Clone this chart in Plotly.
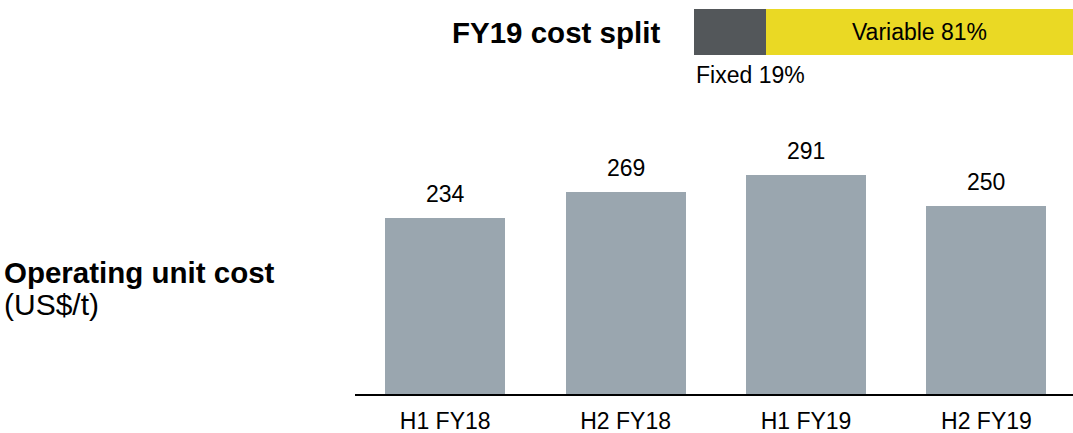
import plotly.graph_objects as go

# Operating unit cost by half-year (US$/t)
periods = ["H1 FY18", "H2 FY18", "H1 FY19", "H2 FY19"]
unit_cost = [234, 269, 291, 250]

# FY19 cost split (%)
split_labels = ["Fixed", "Variable"]
split_values = [19, 81]

FONT = "Liberation Sans, Arial, sans-serif"
BAR_GREY = "#9AA6AF"
DARK = "#53575A"
YELLOW = "#EAD924"

H = 433
BOTTOM = 39
PLOT_H = H - BOTTOM  # pixel height of the plotting area


def py(pixel_y):
    """Convert a pixel row (from top) to paper y."""
    return (PLOT_H - pixel_y) / PLOT_H


fig = go.Figure()

fig.add_trace(go.Bar(
    x=periods, y=unit_cost, marker_color=BAR_GREY, width=0.665,
    xaxis="x", yaxis="y", showlegend=False, hoverinfo="skip",
))

# Horizontal stacked split bar
fig.add_trace(go.Bar(
    y=["FY19"], x=[split_values[0]], orientation="h", marker_color=DARK,
    width=1, xaxis="x2", yaxis="y2", showlegend=False, hoverinfo="skip",
))
fig.add_trace(go.Bar(
    y=["FY19"], x=[split_values[1]], orientation="h", marker_color=YELLOW,
    width=1, xaxis="x2", yaxis="y2", showlegend=False, hoverinfo="skip",
    text=[f"{split_labels[1]} {split_values[1]}%"], textposition="inside",
    insidetextanchor="middle", textfont=dict(family=FONT, size=23, color="black"),
))

annotations = []
for p, v in zip(periods, unit_cost):
    annotations.append(dict(
        x=p, y=v, xref="x", yref="y", text=str(v), showarrow=False,
        yanchor="bottom", yshift=9, font=dict(family=FONT, size=23, color="black"),
    ))

annotations += [
    dict(x=694 / 1073, y=py(75), xref="paper", yref="paper",
         text=f"{split_labels[0]} {split_values[0]}%", showarrow=False,
         xanchor="left", yanchor="middle", font=dict(family=FONT, size=23, color="black")),
    dict(x=662 / 1073, y=py(32), xref="paper", yref="paper",
         text="<b>FY19 cost split</b>", showarrow=False,
         xanchor="right", yanchor="middle", font=dict(family=FONT, size=29.5, color="black")),
    dict(x=2 / 1073, y=py(272), xref="paper", yref="paper",
         text="<b>Operating unit cost</b>", showarrow=False,
         xanchor="left", yanchor="middle", font=dict(family=FONT, size=29.5, color="black")),
    dict(x=2 / 1073, y=py(304), xref="paper", yref="paper",
         text="(US$/t)", showarrow=False,
         xanchor="left", yanchor="middle", font=dict(family=FONT, size=30, color="black")),
]

y_top_px = 158
y_dom_top = (PLOT_H - y_top_px) / PLOT_H
y_max = (PLOT_H - y_top_px) / 0.752

fig.update_layout(
    template="none",
    width=1073, height=H,
    margin=dict(l=0, r=0, t=0, b=BOTTOM, autoexpand=False),
    paper_bgcolor="white", plot_bgcolor="white",
    barmode="stack", bargap=0,
    annotations=annotations,
    xaxis=dict(
        domain=[355 / 1073, 1], range=[-0.5, 3.48], showline=True, linecolor="black",
        linewidth=1.5, showgrid=False, zeroline=False, ticks="", ticklabelstandoff=6,
        automargin=False,
        tickfont=dict(family=FONT, size=23, color="black"), fixedrange=True,
    ),
    yaxis=dict(
        domain=[0, y_dom_top], range=[0, y_max], visible=False, fixedrange=True,
        automargin=False,
    ),
    xaxis2=dict(
        domain=[694 / 1073, 1], range=[0, 100], visible=False, anchor="y2",
        automargin=False,
    ),
    yaxis2=dict(
        domain=[py(55), py(9)], range=[-0.5, 0.5],
        visible=False, anchor="x2", automargin=False,
    ),
)

fig.write_html("out.html")
